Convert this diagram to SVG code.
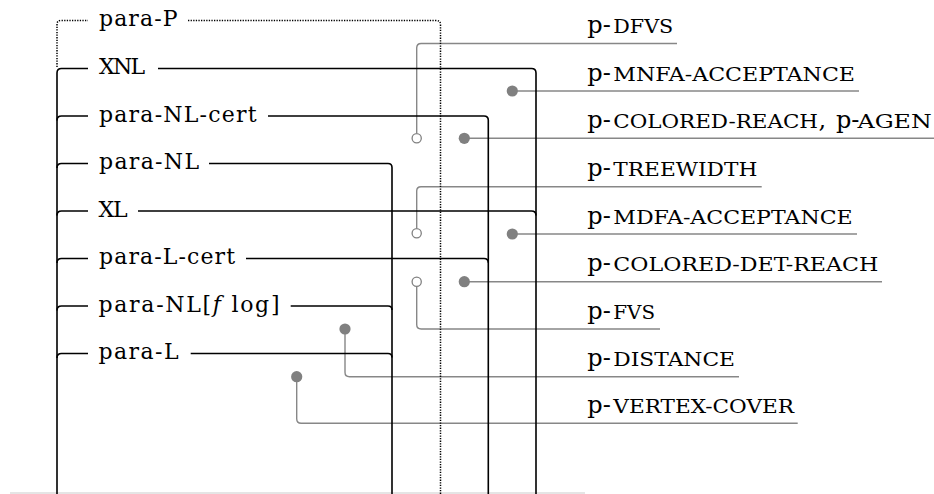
<svg xmlns="http://www.w3.org/2000/svg" width="934" height="494" viewBox="0 0 934 494">
<style>
.bk{fill:none;stroke:#000;stroke-width:1.6}
.dt{fill:none;stroke:#000;stroke-width:1.5;stroke-dasharray:1.3 1.3}
.gc{fill:none;stroke:#878787;stroke-width:1.4}
.dot{fill:#808080}
.ring{fill:#fff;stroke:#808080;stroke-width:1.3}
.cl{font-family:"DejaVu Serif","Liberation Serif",serif;font-size:22px;fill:#000}
.pr{font-family:"DejaVu Serif","Liberation Serif",serif;font-size:24px;fill:#000}
.sc{font-size:18px}
.it{font-style:italic}
</style>
<rect width="934" height="494" fill="#fff"/>
<path d="M10,493 H585" stroke="#dcdcdc" stroke-width="1.5" fill="none"/>
<g id="connectors">
<path class="gc" d="M416.7,133 V48 Q416.7,43.5 421.2,43.5 H677"/>
<path class="gc" d="M512.3,91 H859"/>
<path class="gc" d="M464.3,138.3 H934"/>
<path class="gc" d="M416.7,228 V191 Q416.7,186.7 421,186.7 H761.7"/>
<path class="gc" d="M512.3,234 H857"/>
<path class="gc" d="M464.3,281.7 H882"/>
<path class="gc" d="M416.7,287 V324.5 Q416.7,329 421.2,329 H660"/>
<path class="gc" d="M345,329 V372.2 Q345,376.7 349.5,376.7 H739"/>
<path class="gc" d="M296.7,376.7 V418.8 Q296.7,423.3 301.2,423.3 H797.7"/>
</g>
<g id="para-P">
<path class="dt" d="M57,67 V24.5 Q57,20.5 61,20.5 H88 M188,20.5 H436 Q440.5,20.5 440.5,24.5 V494"/>
<text class="cl" x="99" y="26" textLength="78.5" lengthAdjust="spacing">para-P</text>
</g>
<g id="XNL">
<path class="bk" d="M57,494 V73 Q57,68.5 61.5,68.5 H88 M158,68.5 H531.5 Q536,68.5 536,73 V494"/>
<text class="cl" x="99" y="74" textLength="46" lengthAdjust="spacing">XNL</text>
</g>
<g id="para-NL-cert">
<path class="bk" d="M57,120.5 Q57,116 61.5,116 H88 M268,116 H484 Q488.3,116 488.3,120.3 V494"/>
<text class="cl" x="99" y="121.5" textLength="157.5" lengthAdjust="spacing">para-NL-cert</text>
</g>
<g id="para-NL">
<path class="bk" d="M57,168 Q57,163.5 61.5,163.5 H88 M209,163.5 H388 Q392,163.5 392,167.5 V494"/>
<text class="cl" x="99" y="169" textLength="100" lengthAdjust="spacing">para-NL</text>
</g>
<g id="XL">
<path class="bk" d="M57,215.5 Q57,211 61.5,211 H88 M138,211 H531.5 Q536,211 536,215.5"/>
<text class="cl" x="98.5" y="216.5" textLength="29" lengthAdjust="spacing">XL</text>
</g>
<g id="para-L-cert">
<path class="bk" d="M57,263 Q57,258.5 61.5,258.5 H88 M246,258.5 H484 Q488.3,258.5 488.3,262.8"/>
<text class="cl" x="99" y="264" textLength="136" lengthAdjust="spacing">para-L-cert</text>
</g>
<g id="para-NL-f-log">
<path class="bk" d="M57,310.5 Q57,306 61.5,306 H88 M290.7,306 H388 Q392,306 392,310"/>
<text class="cl" x="98.5" y="311.5" textLength="181" lengthAdjust="spacing">para-NL[<tspan class="it">f</tspan> log]</text>
</g>
<g id="para-L">
<path class="bk" d="M57,358 Q57,353.5 61.5,353.5 H88 M190.7,353.5 H388 Q392,353.5 392,357.5"/>
<text class="cl" x="98.5" y="359" textLength="80" lengthAdjust="spacing">para-L</text>
</g>
<g id="p-dfvs">
<circle class="ring" cx="416.7" cy="138.3" r="4.6"/>
<text class="pr" x="587.3" y="33.3">p-<tspan class="sc" x="613.3" textLength="60" lengthAdjust="spacingAndGlyphs">DFVS</tspan></text>
</g>
<g id="p-mnfa-acceptance">
<circle class="dot" cx="512.3" cy="91" r="5.6"/>
<text class="pr" x="587.3" y="80.7">p-<tspan class="sc" x="613.3" textLength="241.7" lengthAdjust="spacingAndGlyphs">MNFA-ACCEPTANCE</tspan></text>
</g>
<g id="p-colored-reach">
<circle class="dot" cx="464.3" cy="138.3" r="5.6"/>
<text class="pr" x="587.3" y="128">p-<tspan class="sc" x="613.3" textLength="204.7" lengthAdjust="spacingAndGlyphs">COLORED-REACH</tspan><tspan x="818.5">, </tspan><tspan x="836">p-</tspan><tspan class="sc" x="857.5" textLength="74.2" lengthAdjust="spacingAndGlyphs">AGEN</tspan></text>
</g>
<g id="p-treewidth">
<circle class="ring" cx="416.7" cy="233.3" r="4.6"/>
<text class="pr" x="587.3" y="176.4">p-<tspan class="sc" x="613.3" textLength="144" lengthAdjust="spacingAndGlyphs">TREEWIDTH</tspan></text>
</g>
<g id="p-mdfa-acceptance">
<circle class="dot" cx="512.3" cy="234" r="5.6"/>
<text class="pr" x="587.3" y="223.7">p-<tspan class="sc" x="613.3" textLength="239.4" lengthAdjust="spacingAndGlyphs">MDFA-ACCEPTANCE</tspan></text>
</g>
<g id="p-colored-det-reach">
<circle class="dot" cx="464.3" cy="281.7" r="5.6"/>
<text class="pr" x="587.3" y="271.4">p-<tspan class="sc" x="613.3" textLength="265" lengthAdjust="spacingAndGlyphs">COLORED-DET-REACH</tspan></text>
</g>
<g id="p-fvs">
<circle class="ring" cx="416.7" cy="281.7" r="4.6"/>
<text class="pr" x="587.3" y="318.7">p-<tspan class="sc" x="613.3" textLength="41.7" lengthAdjust="spacingAndGlyphs">FVS</tspan></text>
</g>
<g id="p-distance">
<circle class="dot" cx="345" cy="329" r="5.6"/>
<text class="pr" x="587.3" y="366.4">p-<tspan class="sc" x="613.3" textLength="121.7" lengthAdjust="spacingAndGlyphs">DISTANCE</tspan></text>
</g>
<g id="p-vertex-cover">
<circle class="dot" cx="296.7" cy="376.7" r="5.6"/>
<text class="pr" x="587.3" y="413">p-<tspan class="sc" x="613.3" textLength="180.7" lengthAdjust="spacingAndGlyphs">VERTEX-COVER</tspan></text>
</g>
</svg>
